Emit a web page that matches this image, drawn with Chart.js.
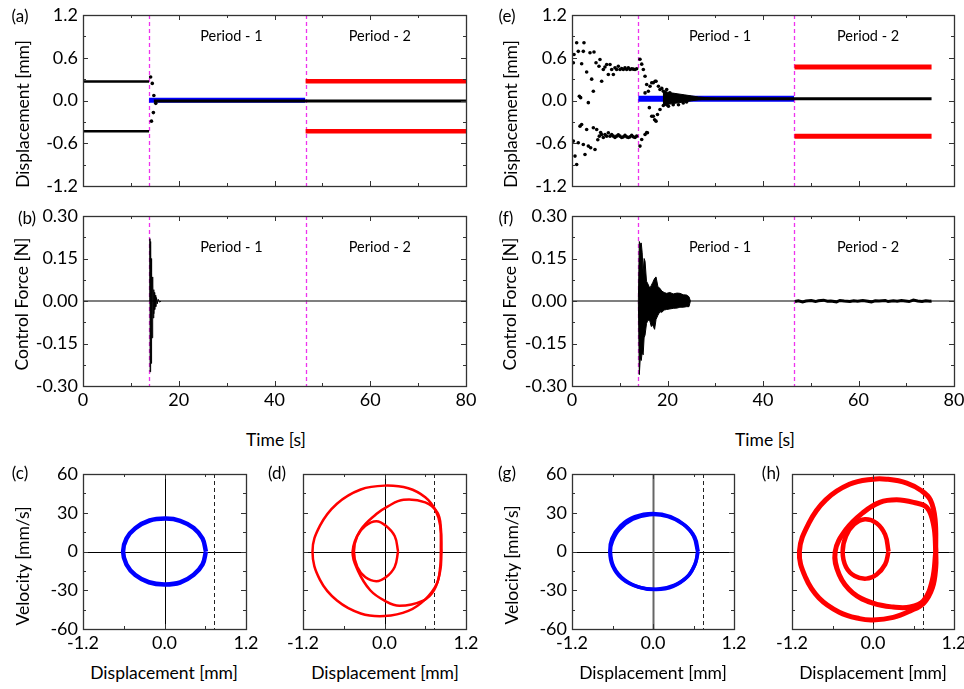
<!DOCTYPE html>
<html><head><meta charset="utf-8">
<script src="https://cdn.jsdelivr.net/npm/chart.js@4.4.1/dist/chart.umd.min.js"></script>
<style>
body{margin:0;background:#fff;width:964px;height:689px;position:relative;overflow:hidden;font-family:Lato,"Open Sans",sans-serif;}
canvas{position:absolute;}
.t{position:absolute;color:#000;white-space:nowrap;font-size:17.5px;line-height:1;}
.rot{transform:translate(-50%,-50%) rotate(-90deg);}
.ctr{transform:translate(-50%,-50%);}
.pl{position:absolute;color:#000;font-size:17px;line-height:1;transform:translate(-50%,-50%);}
</style></head><body>
<script>
// ---------------- DATA ----------------
// (a) displacement, uncontrolled/controlled (case 1)
const aPreT = [0, 13.8];
const aPreHi = [0.265, 0.265];
const aPreLo = [-0.43, -0.43];
const aBlueT = [13.8, 46.4];
const aBlueV = [0.005, 0.005];
const aCtrlT = [14.8, 80];
const aCtrlV = [-0.006, -0.006];
const aRedT = [46.5, 80];
const aRedHi = [0.27, 0.27];
const aRedLo = [-0.43, -0.43];
const aTrT = [14.13, 14.47, 14.8, 15.2, 14.7, 14.3];
const aTrV = [0.33, 0.24, 0.07, -0.04, -0.17, -0.29];

// (b) control force, case 1
const bZeroT = [0, 80];
const bZeroV = [0, 0];
const bSpikeT = [13.9, 13.98, 14.02, 14.08, 14.12, 14.18, 14.22, 14.28, 14.32, 14.38, 14.42, 14.5, 14.55, 14.62, 14.68, 14.75, 14.82, 14.9, 14.98, 15.1, 15.2, 15.35, 15.5, 15.7, 16.0, 16.3];
const bSpikeV = [0, 0.22, -0.25, 0.21, -0.24, 0.2, -0.22, 0.15, -0.2, 0.1, -0.13, 0.085, -0.09, 0.06, -0.06, 0.04, -0.045, 0.03, -0.03, 0.02, -0.02, 0.012, -0.01, 0.006, -0.004, 0];

// (e) displacement, case 2
const eDotT = [0.28,0.42,0.98,1.32,2.02,2.37,2.51,3.07,3.77,4.12,4.61,5.03,5.65,5.86,6.21,6.56,6.9,7.26,7.61,7.96,8.31,8.66,9.0,9.35,9.7,10.05,10.4,10.75,11.1,11.45,11.8,12.15,12.5,12.85,13.2,13.54,
  1.54,1.81,3.42,4.47,
  0.28,0.63,0.98,1.32,1.68,2.02,2.37,2.72,3.07,3.42,3.91,4.47,4.82,5.17,5.4,5.72,6.0,6.21,6.56,6.91,7.26,7.61,7.96,8.31,8.66,9.0,9.35,9.7,10.05,10.4,10.75,11.1,11.45,11.8,12.15,12.5,12.85,13.2,13.54];
const eDotV = [0.53,0.645,0.81,0.69,0.515,0.69,0.81,0.40,0.67,0.30,0.68,0.53,0.48,0.575,0.27,0.435,0.47,0.505,0.365,0.505,0.435,0.365,0.46,0.435,0.48,0.435,0.45,0.435,0.46,0.435,0.46,0.435,0.445,0.44,0.435,0.445,
  0.06,0.04,-0.03,0.13,
  -0.57,-0.78,-0.898,-0.594,-0.36,-0.337,-0.617,-0.757,-0.407,-0.64,-0.664,-0.383,-0.687,-0.407,-0.55,-0.50,-0.45,-0.477,-0.52,-0.477,-0.50,-0.453,-0.50,-0.477,-0.50,-0.52,-0.50,-0.48,-0.50,-0.52,-0.51,-0.49,-0.51,-0.52,-0.51,-0.49,-0.51,-0.52,-0.50];
const eTrT = [14.24,14.6,14.94,15.3,15.64,15.99,16.34,16.7,17.03,17.4,17.6,18.1,18.43,18.8,19.13,19.5,19.83,20.5,21.2,21.9,22.6,23.3,15.3,
  14.24,14.6,15.3,15.64,15.8,16.2,16.7,17.03,17.3,17.6,17.9,18.43,19.13,19.83,20.2,21.2,22.3,23.3,24.0];
const eTrV = [0.58,0.51,0.435,0.34,0.225,0.13,0.20,0.25,0.25,0.27,0.27,0.20,0.155,0.17,0.13,0.12,0.155,0.107,0.08,0.07,0.04,0.05,0.107,
  -0.64,-0.547,-0.477,-0.45,-0.453,-0.10,-0.22,-0.22,-0.27,-0.29,-0.196,-0.126,-0.07,-0.06,-0.08,-0.06,-0.06,-0.035,-0.02];
const eWdgT = [19.0, 20.5, 22.0, 23.5, 25.0, 26.5, 28.0, 30.0];
const eWdgHi = [0.13, 0.11, 0.095, 0.08, 0.065, 0.05, 0.04, 0.03];
const eWdgLo = [-0.07, -0.05, -0.035, -0.02, -0.005, 0.01, 0.018, 0.022];
const eBlueT = [13.9, 46.5];
const eBlueV = [0.025, 0.025];
const eCtrlT = [24, 75.3];
const eCtrlV = [0.025, 0.025];
const eRedT = [46.6, 75.3];
const eRedHi = [0.47, 0.47];
const eRedLo = [-0.50, -0.50];

// (f) control force, case 2
const fZeroT = [0, 80];
const fZeroV = [0, 0];
const fEnvT  = [13.9, 14.1, 14.3, 14.5, 14.7, 14.9, 15.1, 15.3, 15.6, 15.9, 16.3, 16.6, 16.9, 17.3, 17.6, 18.0, 18.4, 18.8, 19.3, 19.8, 20.5, 21.2, 22.0, 22.6, 23.3, 24.0, 24.5, 24.8];
const fEnvHi = [0.0, 0.21, 0.2, 0.205, 0.17, 0.10, 0.15, 0.14, 0.07, 0.06, 0.045, 0.055, 0.065, 0.08, 0.085, 0.05, 0.045, 0.035, 0.03, 0.027, 0.03, 0.025, 0.028, 0.027, 0.022, 0.021, 0.015, 0.0];
const fEnvLo = [0.0, -0.26, -0.2, -0.21, -0.18, -0.19, -0.13, -0.12, -0.08, -0.067, -0.07, -0.09, -0.085, -0.1, -0.065, -0.05, -0.038, -0.04, -0.032, -0.03, -0.028, -0.026, -0.025, -0.022, -0.022, -0.02, -0.02, 0.0];
const fNzT = [46.7,47.4,48.3,49.0,50.1,51.0,51.6,52.7,53.5,54.2,55.4,56.1,57.0,58.2,59.0,59.8,60.9,61.6,62.7,63.5,64.3,65.6,66.2,67.3,68.1,69.0,69.8,70.6,71.5,72.4,73.3,74.1,75.0,75.3];
const fNzV = [-0.002,0.001,-0.003,0.0,0.002,-0.002,0.001,0.003,-0.001,0.0,-0.003,0.002,0.0,-0.002,0.001,-0.001,0.002,0.0,-0.003,0.001,0.0,0.002,-0.002,0.001,-0.001,0.002,0.0,-0.002,0.003,0.0,-0.002,0.001,-0.001,0.0];

// (c) phase portrait, period-1, case 1
const cX = [0.61,0.56,0.43,0.23,0.02,-0.22,-0.43,-0.56,-0.61,-0.56,-0.43,-0.23,0.0,0.23,0.43,0.56,0.61];
const cV = [0,10,18.2,23.8,25.5,24,18,10,0,-10,-18.2,-23.8,-25.5,-24,-18,-10,0];
// (d) phase portrait, period-2, case 1
const dBigX = [0.83,0.82,0.75,0.6,0.35,0.0,-0.35,-0.7,-0.95,-1.06,-0.95,-0.7,-0.35,0.0,0.35,0.6,0.77,0.82,0.83];
const dBigV = [0,20,32,42,49,51,48,37,20,0,-22,-38,-48,-50,-46,-37,-25,-12,0];
const dMidX = [0.84,0.83,0.78,0.6,0.28,0.05,-0.12,-0.36,-0.47,-0.39,-0.21,0.0,0.22,0.57,0.73,0.82,0.84];
const dMidV = [0,18,30,38,40,35,29,16,0,-15,-30,-38,-42,-38,-30,-15,0];
const dSmlX = [0.2,0.15,0.02,-0.12,-0.28,-0.4,-0.45,-0.4,-0.28,-0.12,0.02,0.15,0.2];
const dSmlV = [0,12,20,23.5,20,12,0,-12,-20,-23,-20,-12,0];
// (g) phase portrait, period-1, case 2
const g1X = [0.67,0.62,0.48,0.26,0.0,-0.27,-0.48,-0.61,-0.64,-0.6,-0.46,-0.22,0.05,0.3,0.5,0.62,0.67];
const g1V = [0,11,20,27,29.5,27,20,10,0,-11,-21,-27.5,-29.5,-27,-20,-10,0];
const g2X = [0.66,0.6,0.45,0.22,-0.05,-0.3,-0.5,-0.6,-0.63,-0.58,-0.42,-0.18,0.08,0.32,0.52,0.63,0.66];
const g2V = [0,12,21,27,28.5,25,17,8,0,-12,-22,-28,-29,-26,-19,-9,0];
// (h) phase portrait, period-2, case 2
const hBigX = [0.93,0.92,0.85,0.72,0.5,0.2,0.0,-0.35,-0.7,-0.95,-1.09,-1.0,-0.8,-0.5,-0.2,0.0,0.3,0.55,0.75,0.88,0.93,0.93];
const hBigV = [0,25,40,47,53,56,56,52,40,22,0,-20,-36,-47,-52,-53,-51,-46,-40,-28,-12,0];
const hMidX = [0.93,0.9,0.8,0.6,0.35,0.1,-0.15,-0.4,-0.56,-0.5,-0.3,0.0,0.3,0.55,0.75,0.88,0.93];
const hMidV = [0,20,34,38,40,38,30,17,0,-18,-32,-40,-43,-43,-38,-22,0];
const hSmlX = [0.23,0.18,0.05,-0.12,-0.28,-0.4,-0.45,-0.4,-0.27,-0.1,0.05,0.18,0.23];
const hSmlV = [0,13,22,25,21,12,0,-12,-19,-21,-18,-10,0];

// tick / label text
const periodLabels = ['Period - 1', 'Period - 2'];

// ---------------- RENDER ----------------
const FONT = 'Lato, "Open Sans", sans-serif';
const pts = (xs, ys) => xs.map((x, i) => ({x: x, y: ys[i]}));
const line = (xs, ys, c, w, ex) => Object.assign({data: pts(xs, ys), showLine: true, borderColor: c, backgroundColor: c, borderWidth: w, pointRadius: 0, fill: false, tension: 0}, ex || {});
const dots = (xs, ys, c, r) => ({data: pts(xs, ys), showLine: false, pointRadius: r, pointBackgroundColor: c, pointBorderWidth: 0, borderColor: c, backgroundColor: c});
const loop = (xs, ys, c, w) => line(xs, ys, c, w, {tension: 0.4});

const deco = {
  id: 'deco',
  beforeDatasetsDraw(chart) {
    const d = chart.canvas._deco; if (!d) return;
    const {ctx, chartArea: A, scales: {x, y}} = chart;
    ctx.save();
    ctx.beginPath(); ctx.rect(A.left, A.top, A.right - A.left, A.bottom - A.top); ctx.clip();
    (d.hlines || []).forEach(h => {
      const py = Math.round(y.getPixelForValue(h.v)) + 0.5;
      ctx.strokeStyle = h.c; ctx.lineWidth = h.w; ctx.setLineDash(h.dash || []);
      ctx.beginPath(); ctx.moveTo(A.left, py); ctx.lineTo(A.right, py); ctx.stroke();
    });
    (d.vlines || []).forEach(h => {
      const px = Math.round(x.getPixelForValue(h.v)) + 0.5;
      ctx.strokeStyle = h.c; ctx.lineWidth = h.w; ctx.setLineDash(h.dash || []);
      ctx.beginPath(); ctx.moveTo(px, A.top); ctx.lineTo(px, A.bottom); ctx.stroke();
    });
    ctx.restore();
  },
  afterDatasetsDraw(chart) {
    const d = chart.canvas._deco; if (!d) return;
    const {ctx, chartArea: A, scales: {x, y}} = chart;
    ctx.save();
    ctx.setLineDash([]);
    (d.texts || []).forEach(t => {
      ctx.fillStyle = '#000'; ctx.font = '14.5px ' + FONT; ctx.textAlign = 'center'; ctx.textBaseline = 'middle';
      ctx.fillText(t.s, x.getPixelForValue(t.x), y.getPixelForValue(t.y));
    });
    ctx.strokeStyle = '#333'; ctx.lineWidth = 1;
    const tk = (ax, min, max, major, minor, vert) => {
      const n = Math.round((max - min) / minor), m = Math.round(major / minor);
      for (let i = 1; i < n; i++) {
        const v = min + i * minor, L = (i % m === 0) ? 5 : 3;
        const p = Math.round(ax.getPixelForValue(v)) + 0.5;
        ctx.beginPath();
        if (!vert) {
          ctx.moveTo(p, A.bottom); ctx.lineTo(p, A.bottom - L);
          ctx.moveTo(p, A.top); ctx.lineTo(p, A.top + L);
        } else {
          ctx.moveTo(A.left, p); ctx.lineTo(A.left + L, p);
          ctx.moveTo(A.right, p); ctx.lineTo(A.right - L, p);
        }
        ctx.stroke();
      }
    };
    tk(x, x.min, x.max, d.xMajor, d.xMinor, false);
    tk(y, y.min, y.max, d.yMajor, d.yMinor, true);
    ctx.strokeStyle = '#333'; ctx.lineWidth = 1.3;
    ctx.strokeRect(Math.round(A.left) + 0.5, Math.round(A.top) + 0.5, Math.round(A.right - A.left), Math.round(A.bottom - A.top));
    ctx.restore();
  }
};

function panel(o) {
  const padT = 20, padR = 26;
  const W = (o.r - o.l) + o.yW + padR, H = (o.b - o.t) + padT + o.xH;
  const cv = document.createElement('canvas');
  cv.width = W; cv.height = H;
  cv.style.left = (o.l - o.yW) + 'px'; cv.style.top = (o.t - padT) + 'px';
  cv.style.width = W + 'px'; cv.style.height = H + 'px';
  cv._deco = o.deco;
  document.body.appendChild(cv);
  const tf = {family: FONT, size: 18};
  new Chart(cv, {
    type: 'scatter',
    data: {datasets: o.datasets},
    options: {
      responsive: false, animation: false, devicePixelRatio: 1,
      layout: {padding: {left: 0, top: padT, right: padR, bottom: 0}},
      plugins: {legend: {display: false}, tooltip: {enabled: false}},
      scales: {
        x: {type: 'linear', min: o.x[0], max: o.x[1], grid: {display: false, drawTicks: false, tickLength: 0}, border: {display: false},
            ticks: {display: o.xShow, stepSize: o.x[2], padding: 3, color: '#000', font: tf, maxRotation: 0, autoSkip: false, callback: v => o.xFmt(v)},
            afterFit: s => { s.height = o.xH; s.paddingLeft = 0; s.paddingRight = 0; }},
        y: {type: 'linear', min: o.y[0], max: o.y[1], grid: {display: false, drawTicks: false, tickLength: 0}, border: {display: false},
            ticks: {display: o.yShow, stepSize: o.y[2], padding: 5, color: '#000', font: tf, autoSkip: false, callback: v => o.yFmt(v)},
            afterFit: s => { s.width = o.yW; s.paddingTop = 0; s.paddingBottom = 0; }}
      }
    },
    plugins: [deco]
  });
}

const MAG = '#ee33ee';
const fmt1 = v => (Math.abs(v) < 1e-9 ? 0 : v).toFixed(1);
const fmt2 = v => (Math.abs(v) < 1e-9 ? 0 : v).toFixed(2);
const fmt0 = v => String(Math.round(v));
const timeDeco = (yMaj, yMin, txtY) => ({
  vlines: [{v: 13.8, c: MAG, w: 1.3, dash: [4, 3]}, {v: 46.5, c: MAG, w: 1.3, dash: [4, 3]}],
  texts: [{s: periodLabels[0], x: 31, y: txtY}, {s: periodLabels[1], x: 62, y: txtY}],
  xMajor: 20, xMinor: 10, yMajor: yMaj, yMinor: yMin
});
const phaseDeco = (axc, axw) => ({
  hlines: [{v: 0, c: '#000', w: 1}],
  vlines: [{v: 0, c: axc, w: axw}, {v: 0.735, c: '#222', w: 1, dash: [4, 3]}],
  xMajor: 1.2, xMinor: 0.6, yMajor: 30, yMinor: 15
});

// (a)
panel({l: 83, t: 15, r: 466, b: 186, yW: 83, xH: 12, x: [0, 80, 20], y: [-1.2, 1.2, 0.6], xShow: false, yShow: true, xFmt: fmt0, yFmt: fmt1,
  deco: timeDeco(0.6, 0.3, 0.9),
  datasets: [
    dots(aTrT, aTrV, '#000', 1.8),
    line(aCtrlT, aCtrlV, '#000', 3),
    line(aBlueT, aBlueV, '#0000ff', 5),
    line(aRedT, aRedHi, '#ff0000', 4.5),
    line(aRedT, aRedLo, '#ff0000', 4.5),
    line(aPreT, aPreHi, '#000', 2.5),
    line(aPreT, aPreLo, '#000', 2.5)
  ]});
// (b)
panel({l: 83, t: 216, r: 466, b: 386, yW: 83, xH: 30, x: [0, 80, 20], y: [-0.3, 0.3, 0.15], xShow: true, yShow: true, xFmt: fmt0, yFmt: fmt2,
  deco: timeDeco(0.15, 0.075, 0.19),
  datasets: [
    line(bSpikeT, bSpikeV, '#000', 1),
    line(bZeroT, bZeroV, '#555', 1.5)
  ]});
// (e)
panel({l: 572, t: 15, r: 954, b: 186, yW: 92, xH: 12, x: [0, 80, 20], y: [-1.2, 1.2, 0.6], xShow: false, yShow: true, xFmt: fmt0, yFmt: fmt1,
  deco: timeDeco(0.6, 0.3, 0.9),
  datasets: [
    dots(eDotT, eDotV, '#000', 1.8),
    dots(eTrT, eTrV, '#000', 1.8),
    line(eWdgT, eWdgHi, '#000', 1, {fill: '+1'}),
    line(eWdgT, eWdgLo, '#000', 1),
    line(eCtrlT, eCtrlV, '#000', 3),
    line(eBlueT, eBlueV, '#0000ff', 6),
    line(eRedT, eRedHi, '#ff0000', 5),
    line(eRedT, eRedLo, '#ff0000', 5)
  ]});
// (f)
panel({l: 572, t: 216, r: 954, b: 386, yW: 92, xH: 30, x: [0, 80, 20], y: [-0.3, 0.3, 0.15], xShow: true, yShow: true, xFmt: fmt0, yFmt: fmt2,
  deco: timeDeco(0.15, 0.075, 0.19),
  datasets: [
    line(fEnvT, fEnvHi, '#000', 1, {fill: '+1'}),
    line(fEnvT, fEnvLo, '#000', 1),
    line(fNzT, fNzV, '#000', 3),
    line(fZeroT, fZeroV, '#555', 1.5)
  ]});
// (c)
panel({l: 83, t: 474, r: 246, b: 629, yW: 83, xH: 28, x: [-1.2, 1.2, 1.2], y: [-60, 60, 30], xShow: true, yShow: true, xFmt: fmt1, yFmt: fmt0,
  deco: phaseDeco('#000', 1),
  datasets: [loop(cX, cV, '#0000ff', 4.5)]});
// (d)
panel({l: 303, t: 474, r: 466, b: 629, yW: 30, xH: 28, x: [-1.2, 1.2, 1.2], y: [-60, 60, 30], xShow: true, yShow: false, xFmt: fmt1, yFmt: fmt0,
  deco: phaseDeco('#000', 1),
  datasets: [loop(dBigX, dBigV, '#ff0000', 2.5), loop(dMidX, dMidV, '#ff0000', 2.5), loop(dSmlX, dSmlV, '#ff0000', 2.5)]});
// (g)
panel({l: 572, t: 474, r: 734, b: 629, yW: 92, xH: 28, x: [-1.2, 1.2, 1.2], y: [-60, 60, 30], xShow: true, yShow: true, xFmt: fmt1, yFmt: fmt0,
  deco: phaseDeco('#666', 2),
  datasets: [loop(g1X, g1V, '#0000ff', 3.5), loop(g2X, g2V, '#0000ff', 3.5)]});
// (h)
panel({l: 792, t: 474, r: 954, b: 629, yW: 30, xH: 28, x: [-1.2, 1.2, 1.2], y: [-60, 60, 30], xShow: true, yShow: false, xFmt: fmt1, yFmt: fmt0,
  deco: phaseDeco('#000', 1),
  datasets: [loop(hBigX, hBigV, '#ff0000', 5), loop(hMidX, hMidV, '#ff0000', 5), loop(hSmlX, hSmlV, '#ff0000', 4.5)]});

// HTML text labels
function txt(s, x, y, cls) { const e = document.createElement('div'); e.className = cls; e.textContent = s; e.style.left = x + 'px'; e.style.top = y + 'px'; document.body.appendChild(e); }
[['(a)', 20, 15], ['(e)', 507, 15], ['(b)', 27, 217], ['(f)', 506, 217], ['(c)', 20, 472], ['(d)', 277, 472], ['(g)', 507, 472], ['(h)', 771, 472]]
  .forEach(p => txt(p[0], p[1], p[2], 'pl'));
txt('Displacement [mm]', 23, 114, 't rot');
txt('Displacement [mm]', 511, 114, 't rot');
txt('Control Force [N]', 22, 304, 't rot');
txt('Control Force [N]', 510, 304, 't rot');
txt('Velocity [mm/s]', 23, 566, 't rot');
txt('Velocity [mm/s]', 512, 565, 't rot');
txt('Time [s]', 276, 440, 't ctr');
txt('Time [s]', 765, 440, 't ctr');
txt('Displacement [mm]', 164, 673, 't ctr');
txt('Displacement [mm]', 385, 673, 't ctr');
txt('Displacement [mm]', 653, 673, 't ctr');
txt('Displacement [mm]', 873, 673, 't ctr');
</script>
</body></html>
